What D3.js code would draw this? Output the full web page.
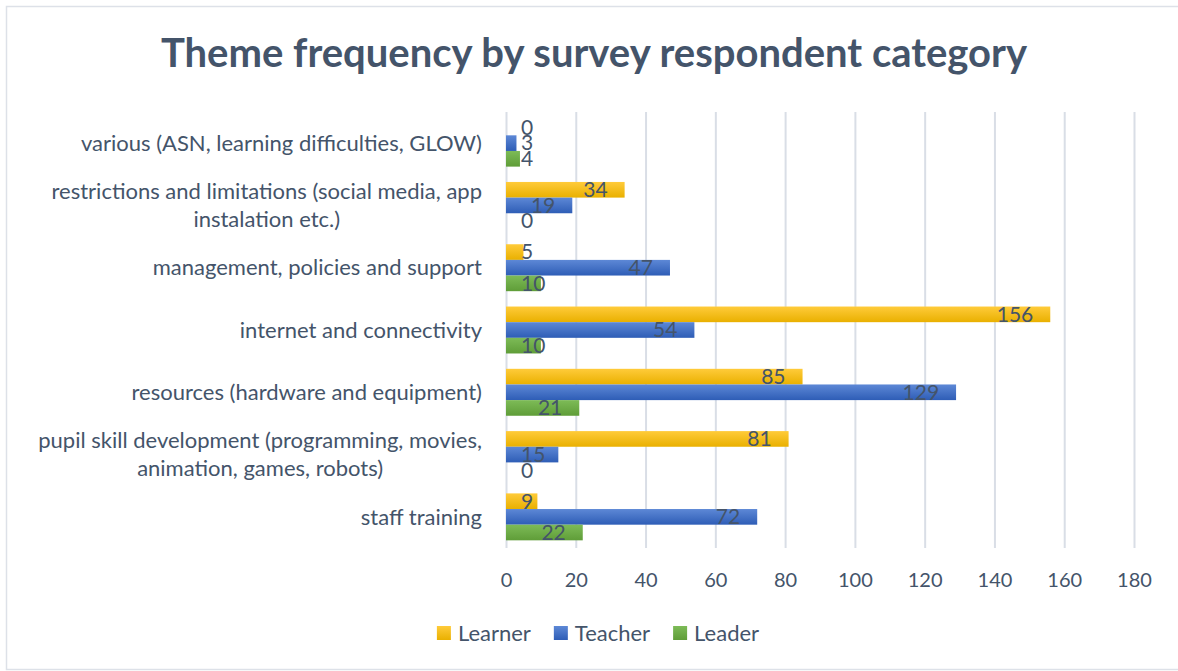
<!DOCTYPE html>
<html>
<head>
<meta charset="utf-8">
<script src="https://cdn.jsdelivr.net/npm/d3@7"></script>
<style>
  body { margin: 0; background: #fff; }
  text { font-family: Lato, "Open Sans", sans-serif; fill: #44546a; }
</style>
</head>
<body>
<div id="chart"></div>
<script>
// chart data (top row first)
var categories = [
    "various (ASN, learning difficulties, GLOW)",
    "restrictions and limitations (social media, app instalation etc.)",
    "management, policies and support",
    "internet and connectivity",
    "resources (hardware and equipment)",
    "pupil skill development (programming, movies, animation, games, robots)",
    "staff training"
];
var seriesNames = ["Learner", "Teacher", "Leader"];
var learner = [0, 34, 5, 156, 85, 81, 9];
var teacher = [3, 19, 47, 54, 129, 15, 72];
var leader = [4, 0, 10, 10, 21, 0, 22];
var xTicks = [0, 20, 40, 60, 80, 100, 120, 140, 160, 180];

var svgWidth = 1178;
var svgHeight = 671;

var margin = { top: 112, right: 44, bottom: 123, left: 506 };
var width = svgWidth - margin.left - margin.right;
var height = svgHeight - margin.top - margin.bottom;

var root = d3.select("#chart")
    .append("svg")
    .attr("width", svgWidth)
    .attr("height", svgHeight);

// outer frame
root.append("rect")
    .attr("x", 6.5).attr("y", 6.5)
    .attr("width", svgWidth).attr("height", 663)
    .attr("fill", "none")
    .attr("stroke", "#dde1e8")
    .attr("stroke-width", 1.5);

// gradients for the bars
var colors = {
    Learner: ["#ffcb3a", "#e9b000"],
    Teacher: ["#5d88d6", "#2e5db6"],
    Leader: ["#7dbb57", "#5f9d38"]
};
var defs = root.append("defs");
seriesNames.forEach(function(s) {
    var g = defs.append("linearGradient")
        .attr("id", "grad-" + s)
        .attr("x1", 0).attr("y1", 0).attr("x2", 0).attr("y2", 1);
    g.append("stop").attr("offset", "0%").attr("stop-color", colors[s][0]);
    g.append("stop").attr("offset", "100%").attr("stop-color", colors[s][1]);
});

// title
root.append("text")
    .attr("x", 594)
    .attr("y", 67)
    .attr("text-anchor", "middle")
    .style("font-size", "40px")
    .style("font-weight", "bold")
    .text("Theme frequency by survey respondent category");

var svg = root.append("g")
    .attr("transform", "translate(" + margin.left + "," + margin.top + ")");

// scales
var xScale = d3.scaleLinear()
    .domain([0, 180])
    .range([0, width]);

var yScale = d3.scaleBand()
    .domain(categories)
    .range([0, height])
    .padding(0);

var ySub = d3.scaleBand()
    .domain(seriesNames)
    .range([0, yScale.bandwidth()])
    .paddingInner(0)
    .paddingOuter(0.49);

// gridlines + tick labels
var bottomAxis = d3.axisBottom(xScale)
    .tickValues(xTicks)
    .tickSize(-height)
    .tickPadding(25);

var xAxis = svg.append("g")
    .attr("transform", "translate(0," + height + ")")
    .call(bottomAxis);
xAxis.select(".domain").remove();
xAxis.selectAll("line")
    .attr("stroke", "#d9dee6")
    .attr("stroke-width", 2);
xAxis.selectAll("text")
    .style("font-size", "20px")
    .style("font-family", "Lato, sans-serif")
    .attr("fill", "#44546a");

// category labels, wrapped (lines centred within the block, block right-aligned)
var catLabels = svg.append("g")
    .selectAll("text")
    .data(categories)
    .enter()
    .append("text")
    .style("font-size", "22px");

catLabels.each(function(d) {
    var el = d3.select(this);
    var words = d.split(" ");
    var lines = [];
    var line = [];
    var probe = el.append("tspan");
    var maxW = 0;
    words.forEach(function(w) {
        line.push(w);
        probe.text(line.join(" "));
        if (probe.node().getComputedTextLength() > 465 && line.length > 1) {
            line.pop();
            probe.text(line.join(" "));
            maxW = Math.max(maxW, probe.node().getComputedTextLength());
            lines.push(line.join(" "));
            line = [w];
        }
    });
    probe.text(line.join(" "));
    maxW = Math.max(maxW, probe.node().getComputedTextLength());
    lines.push(line.join(" "));
    probe.remove();
    var lh = 28;
    var cy = yScale(d) + yScale.bandwidth() / 2;
    var cx = -24 - maxW / 2;
    el.attr("text-anchor", "middle");
    lines.forEach(function(t, i) {
        el.append("tspan")
            .attr("x", cx)
            .attr("y", cy + (i - (lines.length - 1) / 2) * lh)
            .attr("dy", "0.35em")
            .text(t);
    });
});

// bars
var tableData = categories.map(function(c, i) {
    return {
        category: c,
        values: [
            { series: "Learner", value: learner[i] },
            { series: "Teacher", value: teacher[i] },
            { series: "Leader", value: leader[i] }
        ]
    };
});

var groups = svg.selectAll(".cat")
    .data(tableData)
    .enter()
    .append("g")
    .attr("class", "cat")
    .attr("transform", d => "translate(0," + yScale(d.category) + ")");

groups.selectAll("rect")
    .data(d => d.values)
    .enter()
    .append("rect")
    .attr("x", xScale(0))
    .attr("y", d => ySub(d.series))
    .attr("width", d => xScale(d.value) - xScale(0))
    .attr("height", ySub.bandwidth())
    .attr("fill", d => "url(#grad-" + d.series + ")");

// data labels at the inside end
groups.selectAll(".lbl")
    .data(d => d.values)
    .enter()
    .append("text")
    .attr("class", "lbl")
    .attr("y", d => ySub(d.series) + ySub.bandwidth() / 2)
    .attr("dy", "0.35em")
    .style("font-size", "21px")
    .text(d => d.value)
    .attr("x", function(d) {
        var w = this.getComputedTextLength();
        return Math.max(xScale(0) + 15, xScale(d.value) - 17 - w);
    });

// legend
var legend = root.append("g");
var lx = 0;
seriesNames.forEach(function(s) {
    var item = legend.append("g").attr("transform", "translate(" + lx + ",0)");
    item.append("rect")
        .attr("x", 0).attr("y", -7)
        .attr("width", 14).attr("height", 14)
        .attr("fill", "url(#grad-" + s + ")");
    var t = item.append("text")
        .attr("x", 21)
        .attr("dy", "0.35em")
        .style("font-size", "22px")
        .text(s);
    lx += 21 + t.node().getComputedTextLength() + 23;
});
var legendW = lx - 23;
legend.attr("transform", "translate(" + (598 - legendW / 2) + ",633)");
</script>
</body>
</html>
